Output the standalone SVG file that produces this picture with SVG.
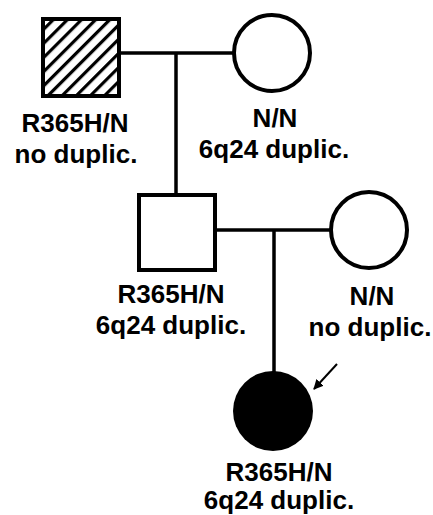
<svg xmlns="http://www.w3.org/2000/svg" width="433" height="515" viewBox="0 0 433 515">
<style>
.lbl{font-family:"Liberation Sans",Arial,sans-serif;font-weight:bold;font-size:26px;fill:#000;text-anchor:middle}
.ln{stroke:#000;stroke-width:3.5;fill:none}
.sym{stroke:#000;stroke-width:4;fill:#fff}
</style>
<defs>
<pattern id="hatch" width="10" height="10" patternUnits="userSpaceOnUse" patternTransform="rotate(45)">
<rect x="0" y="0" width="3.2" height="10" fill="#000"/>
</pattern>
<marker id="ah" markerWidth="10" markerHeight="10" refX="9" refY="5" orient="auto" markerUnits="userSpaceOnUse">
<path d="M0,0 L10,5 L0,10 z" fill="#000"/>
</marker>
</defs>
<g id="connectors">
<line class="ln" x1="120" y1="53" x2="233" y2="53"/>
<line class="ln" x1="176" y1="53" x2="176" y2="194"/>
<line class="ln" x1="216" y1="230" x2="330" y2="230"/>
<line class="ln" x1="274" y1="230" x2="274" y2="373"/>
<line x1="337" y1="364" x2="314" y2="389" stroke="#000" stroke-width="2" marker-end="url(#ah)"/>
</g>
<g id="grandfather">
<rect x="43" y="19" width="76" height="77" fill="#fff"/>
<rect x="43" y="19" width="76" height="77" fill="url(#hatch)" stroke="#000" stroke-width="4"/>
<text class="lbl" x="75" y="132">R365H/N</text>
<text class="lbl" x="76" y="163">no duplic.</text>
</g>
<g id="grandmother">
<circle class="sym" cx="272" cy="53" r="38"/>
<text class="lbl" x="275" y="127">N/N</text>
<text class="lbl" x="274" y="158">6q24 duplic.</text>
</g>
<g id="father">
<rect class="sym" x="139" y="195" width="76" height="75"/>
<text class="lbl" x="171" y="303">R365H/N</text>
<text class="lbl" x="171" y="334">6q24 duplic.</text>
</g>
<g id="mother">
<circle class="sym" cx="369" cy="230" r="38"/>
<text class="lbl" x="372" y="305">N/N</text>
<text class="lbl" x="370" y="336">no duplic.</text>
</g>
<g id="proband">
<circle cx="273" cy="411" r="40" fill="#000"/>
<text class="lbl" x="279" y="481">R365H/N</text>
<text class="lbl" x="279" y="509">6q24 duplic.</text>
</g>
</svg>
